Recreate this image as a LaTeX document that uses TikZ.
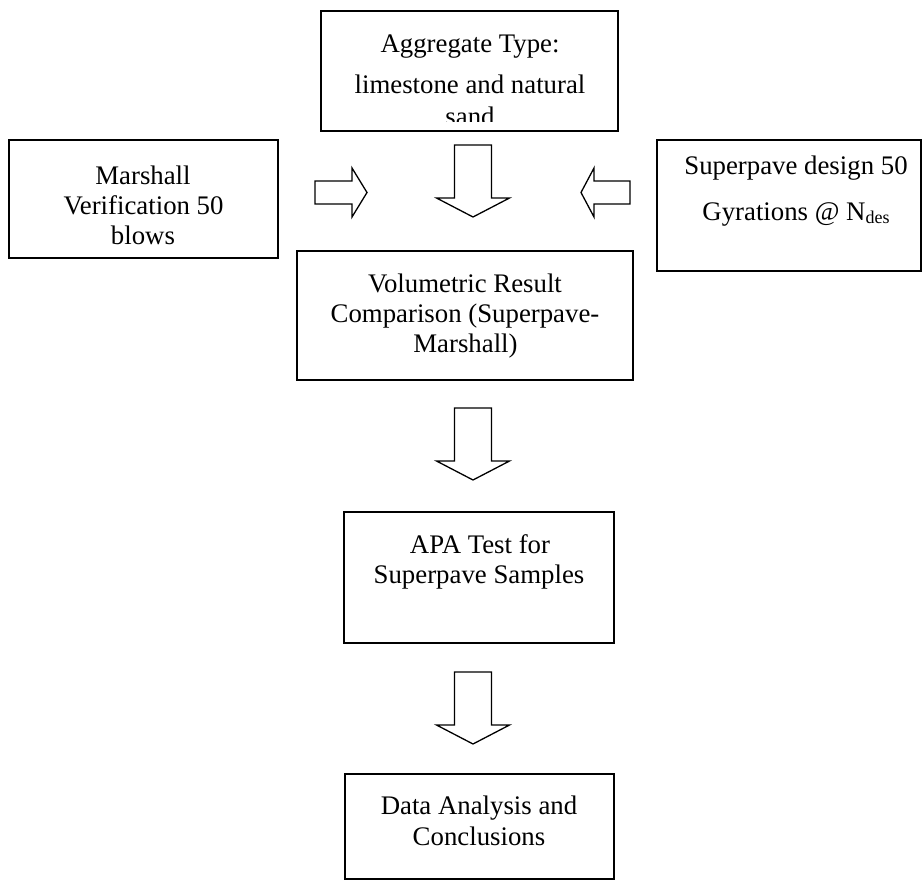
\documentclass[tikz,border=0pt]{standalone}
\usepackage{fontspec}
\setmainfont{Liberation Serif}
\begin{document}
\begin{tikzpicture}[x=1pt,y=-1pt,
  box/.style={draw=black,line width=1.8pt,fill=none},
  txt/.style={anchor=base,inner sep=0pt,font=\fontsize{26.8}{30}\selectfont},
  blk/.style={draw=black,line width=1.3pt,line join=miter},
  downarr/.pic={\draw[blk] (-18.5,0) -- (-18.5,53) -- (-36.5,53) -- (0,72) -- (36.5,53) -- (18.5,53) -- (18.5,0) -- cycle;},
  rightarr/.pic={\draw[blk] (0,-11.5) -- (37,-11.5) -- (37,-24.5) -- (52,0) -- (37,24.5) -- (37,11.5) -- (0,11.5) -- cycle;},
  leftarr/.pic={\draw[blk] (0,-11.5) -- (-36,-11.5) -- (-36,-24.5) -- (-49,0) -- (-36,24.5) -- (-36,11.5) -- (0,11.5) -- cycle;}
]
\useasboundingbox (0,0) rectangle (923,880);
\fill[white] (0,0) rectangle (923,880);

% boxes
\draw[box] (321,11) rectangle (618,131) node[coordinate] (agg) {};
\draw[box] (9,140) rectangle (278,258) node[coordinate] (mar) {};
\draw[box] (657,140) rectangle (921,271) node[coordinate] (sup) {};
\draw[box] (297,251) rectangle (633,380) node[coordinate] (vol) {};
\draw[box] (344,512) rectangle (614,643) node[coordinate] (apa) {};
\draw[box] (345,774) rectangle (614,879) node[coordinate] (dat) {};

% aggregate text (last line clipped by the box)
\begin{scope}
\clip (322,12) rectangle (617,122);
\node[txt] (agg1) at (470,53) {Aggregate Type:};
\node[txt] (agg2) at (470,94) {limestone and natural};
\node[txt] (agg3) at (470,126) {sand};
\end{scope}

% marshall
\node[txt] (mar1) at (143,184) {Marshall};
\node[txt] (mar2) at (143.5,214) {Verification 50};
\node[txt] (mar3) at (143,244) {blows};

% superpave
\node[txt] (sup1) at (796,174) {Superpave design 50};
\node[txt] (sup2) at (796,220) {Gyrations @ N\raisebox{-3.5pt}{\fontsize{18}{18}\selectfont des}};

% volumetric
\node[txt] (vol1) at (465,292) {Volumetric Result};
\node[txt] (vol2) at (465,322) {Comparison (Superpave-};
\node[txt] (vol3) at (465.5,352) {Marshall)};

% APA
\node[txt] (apa1) at (480,553) {APA Test for};
\node[txt] (apa2) at (479,583) {Superpave Samples};

% data
\node[txt] (dat1) at (479,814) {Data Analysis and};
\node[txt] (dat2) at (479,845) {Conclusions};

% block arrows
\coordinate (a1) at (473,145);
\coordinate (a2) at (473,408);
\coordinate (a3) at (473,672);
\coordinate (ar) at (315,192.5);
\coordinate (al) at (630,192.5);
\pic at (a1) {downarr};
\pic at (a2) {downarr};
\pic at (a3) {downarr};
\pic at (ar) {rightarr};
\pic at (al) {leftarr};
\end{tikzpicture}
\end{document}
